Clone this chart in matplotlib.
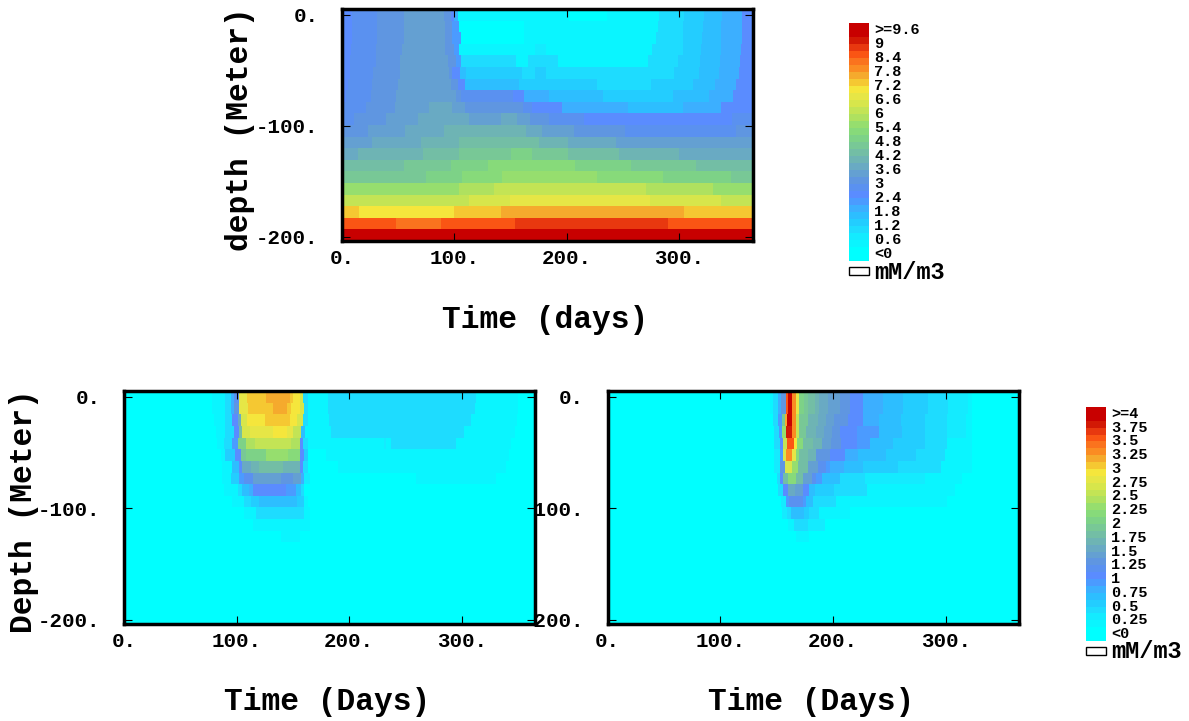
import numpy as np
import matplotlib
matplotlib.use("Agg")
import matplotlib.pyplot as plt
from matplotlib.colors import ListedColormap, BoundaryNorm
from matplotlib.patches import Rectangle

W, H = 1189, 721
plt.rcParams["font.family"] = ["Liberation Mono", "DejaVu Sans Mono"]
plt.rcParams["font.weight"] = "bold"

x_ticks = [0, 100, 200, 300]
x_tick_labels = ["0.", "100.", "200.", "300."]
y_ticks = [0, -100, -200]
y_tick_labels = ["0.", "-100.", "-200."]

top_key_labels = ["<0", "0.6", "1.2", "1.8", "2.4", "3", "3.6", "4.2", "4.8", "5.4",
                  "6", "6.6", "7.2", "7.8", "8.4", "9", ">=9.6"]
low_key_labels = ["<0", "0.25", "0.5", "0.75", "1", "1.25", "1.5", "1.75", "2", "2.25",
                  "2.5", "2.75", "3", "3.25", "3.5", "3.75", ">=4"]

band_colors = ["#00ffff", "#0af5ff", "#14ebff", "#1edcff", "#23cdff", "#2dbeff", "#3cafff", "#4b9bff",
               "#5a8cff", "#5a91f0", "#5f96e1", "#64a0d2", "#69aac3", "#6eb4b4", "#73bea5", "#78c896",
               "#7dd287", "#87da7a", "#96de6e", "#afe15f", "#c3e455", "#d7e64b", "#e6e646", "#f5e63c",
               "#f5c832", "#f5aa2d", "#fa8c23", "#fa731e", "#fa5514", "#e8380f", "#d21905", "#c80000"]

# each depth row: (start day, value), value holds until the next start day
top_rows = [
    [(0,2.5),(9,2.8),(31,3.1),(55,3.4),(91,3.1),(97,2.5),(100,1.9),(103,.4),(202,.1),(236,.4),(282,1.0),(304,1.3),(322,1.6),(338,1.9),(356,2.5)],
    [(0,2.5),(9,2.8),(31,3.1),(55,3.4),(92,3.1),(98,2.2),(104,.1),(162,.4),(281,1.0),(303,1.3),(321,1.6),(337,1.9),(356,2.5)],
    [(0,2.5),(9,2.8),(31,3.1),(55,3.4),(92,3.1),(98,2.2),(106,.1),(162,.4),(279,1.0),(303,1.3),(320,1.6),(337,1.9),(356,2.5)],
    [(0,2.5),(8,2.8),(30,3.1),(53,3.4),(92,3.1),(100,2.2),(104,.4),(172,.7),(181,.4),(276,1.0),(303,1.3),(319,1.6),(337,1.9),(355,2.5)],
    [(0,2.5),(7,2.8),(30,3.1),(52,3.4),(94,3.1),(101,2.2),(106,1.0),(155,.4),(165,1.0),(192,.4),(272,1.0),(299,1.3),(318,1.6),(336,1.9),(354,2.5)],
    [(0,2.5),(7,2.8),(28,3.1),(52,3.4),(95,3.1),(98,2.5),(105,1.6),(110,1.3),(160,1.0),(172,1.3),(181,1.0),(295,1.3),(317,1.6),(335,1.9),(353,2.5)],
    [(0,2.5),(5,2.8),(27,3.1),(50,3.4),(97,3.1),(103,2.5),(109,1.6),(157,1.3),(227,1.0),(275,1.3),(312,1.6),(332,1.9),(350,2.5)],
    [(0,2.5),(4,2.8),(26,3.1),(48,3.4),(101,3.1),(106,2.8),(152,2.5),(162,1.9),(184,1.6),(232,1.3),(294,1.6),(326,1.9),(348,2.5)],
    [(0,2.8),(21,3.1),(47,3.4),(77,3.7),(98,3.4),(109,3.1),(161,2.8),(169,2.5),(196,1.9),(254,1.6),(303,1.9),(337,2.5)],
    [(0,2.8),(11,3.1),(39,3.4),(68,3.7),(113,3.4),(141,3.7),(156,3.4),(167,3.1),(184,2.8),(215,2.5),(347,2.8)],
    [(0,3.1),(23,3.4),(56,3.7),(91,4.0),(164,3.7),(178,3.4),(206,3.1),(252,2.8),(350,3.1)],
    [(0,3.4),(27,3.7),(70,4.0),(104,4.3),(175,4.0),(201,3.7),(244,3.4)],
    [(0,3.7),(14,4.0),(72,4.3),(104,4.6),(150,4.9),(169,4.6),(201,4.3),(246,4.0),(300,3.7)],
    [(0,4.3),(55,4.6),(97,4.9),(130,5.2),(207,4.9),(257,4.6),(315,4.3)],
    [(0,4.6),(75,4.9),(107,5.2),(142,5.5),(227,5.2),(285,4.9),(346,4.6)],
    [(0,5.5),(104,5.8),(135,6.1),(270,5.8),(330,5.5)],
    [(0,6.1),(113,6.4),(149,6.7),(274,6.4),(337,6.1)],
    [(0,7.3),(15,7.0),(100,7.3),(141,7.6),(304,7.3)],
    [(0,8.5),(48,8.2),(88,8.5),(154,8.8),(290,8.5)],
    [(0,9.4)],
]

left_rows = [
    [(0,.05),(78,.18),(90,.43),(95,.8),(98,1.18),(102,2.8),(109,3.05),(126,3.18),(147,3.05),(150,2.93),(156,2.68),(159,.43),(163,.18),(181,.43),(313,.18),(350,.05)],
    [(0,.05),(78,.18),(90,.43),(95,.8),(98,1.3),(102,2.8),(110,3.05),(132,3.18),(145,3.05),(148,2.93),(156,2.68),(160,.43),(163,.18),(181,.43),(312,.18),(350,.05)],
    [(0,.05),(80,.18),(90,.43),(96,1.05),(101,1.55),(104,2.68),(109,2.93),(125,3.05),(147,2.93),(154,2.68),(159,.43),(163,.18),(182,.43),(308,.18),(349,.05)],
    [(0,.05),(82,.18),(90,.43),(98,1.05),(102,1.8),(105,2.68),(112,2.8),(132,2.93),(145,2.8),(150,2.55),(157,.68),(161,.18),(184,.43),(302,.18),(347,.05)],
    [(0,.05),(83,.18),(89,.43),(96,.93),(101,2.05),(108,2.43),(116,2.55),(148,2.43),(156,1.05),(159,.43),(163,.18),(231,.3),(233,.18),(237,.43),(295,.18),(344,.05)],
    [(0,.05),(86,.18),(90,.55),(99,1.05),(104,1.93),(108,2.05),(126,2.3),(146,2.18),(156,1.05),(160,.55),(163,.05),(179,.18),(342,.05)],
    [(0,.05),(87,.18),(96,.68),(102,1.05),(105,1.55),(113,1.68),(120,1.8),(141,1.68),(156,1.05),(159,.43),(163,.05),(190,.18),(339,.05)],
    [(0,.05),(87,.18),(95,.55),(102,.93),(107,1.18),(115,1.43),(139,1.3),(150,1.43),(157,.8),(160,.3),(165,.05),(259,.18),(330,.05)],
    [(0,.05),(89,.18),(101,.43),(105,.68),(111,.8),(115,1.05),(144,.93),(153,.68),(157,.43),(160,.05)],
    [(0,.05),(96,.18),(107,.43),(113,.55),(120,.68),(154,.55),(160,.18),(163,.05)],
    [(0,.05),(107,.18),(117,.43),(160,.18),(165,.05)],
    [(0,.05),(115,.18),(165,.05)],
    [(0,.05),(139,.18),(156,.05)],
    [(0,.05)], [(0,.05)], [(0,.05)], [(0,.05)], [(0,.05)], [(0,.05)], [(0,.05)],
]

right_rows = [
    [(0,.05),(144,.18),(147,.43),(151,.8),(154,1.3),(158,3.55),(160,3.93),(164,3.3),(167,2.8),(170,2.05),(174,1.93),(178,1.8),(184,1.68),(188,1.55),(196,1.43),(206,1.3),(215,1.05),(227,.8),(244,.68),(262,.55),(284,.43),(302,.3),(320,.18),(323,.05)],
    [(0,.05),(144,.18),(147,.43),(151,.8),(154,1.3),(158,3.55),(160,3.93),(164,3.3),(167,2.8),(170,2.05),(174,1.93),(178,1.8),(184,1.68),(188,1.55),(196,1.43),(206,1.3),(215,1.05),(227,.8),(244,.68),(262,.55),(284,.43),(302,.3),(320,.18),(323,.05)],
    [(0,.05),(147,.43),(151,.93),(155,1.93),(157,3.18),(159,3.93),(164,3.3),(167,2.55),(170,1.93),(178,1.68),(187,1.55),(194,1.43),(201,1.3),(213,1.05),(227,.8),(241,.68),(260,.55),(282,.43),(301,.3),(318,.18),(323,.05)],
    [(0,.05),(148,.43),(152,.93),(155,2.3),(158,3.8),(164,3.3),(167,2.55),(170,1.93),(176,1.68),(185,1.55),(192,1.43),(199,1.3),(206,1.05),(221,.93),(241,.68),(261,.55),(282,.43),(301,.3),(318,.18),(323,.05)],
    [(0,.05),(148,.43),(153,1.05),(156,2.55),(159,3.55),(165,2.93),(168,2.18),(173,1.8),(182,1.68),(190,1.43),(198,1.3),(207,1.05),(221,.93),(233,.68),(253,.55),(282,.43),(301,.18),(323,.05)],
    [(0,.05),(148,.3),(153,.93),(156,2.68),(158,3.3),(164,2.8),(167,2.18),(170,1.8),(178,1.68),(185,1.3),(197,1.05),(211,.8),(222,.68),(247,.55),(274,.43),(299,.18),(323,.05)],
    [(0,.05),(148,.3),(153,1.3),(157,2.68),(164,2.3),(169,1.8),(178,1.43),(187,1.18),(194,.93),(197,.8),(210,.68),(227,.55),(258,.43),(296,.18),(323,.05)],
    [(0,.05),(150,.43),(153,1.05),(156,1.8),(160,2.18),(167,1.8),(173,1.43),(181,1.18),(185,.93),(190,.68),(206,.43),(228,.3),(282,.18),(314,.05)],
    [(0,.05),(151,.43),(156,1.05),(160,1.55),(166,1.43),(173,1.05),(179,.68),(184,.55),(201,.43),(230,.18),(308,.05)],
    [(0,.05),(154,.3),(158,.93),(161,1.18),(173,.93),(176,.68),(182,.43),(203,.18),(301,.05)],
    [(0,.05),(155,.3),(159,.43),(163,.68),(174,.55),(179,.43),(188,.18),(215,.05)],
    [(0,.05),(160,.18),(165,.43),(178,.3),(193,.05)],
    [(0,.05),(167,.18),(179,.05)],
    [(0,.05)], [(0,.05)], [(0,.05)], [(0,.05)], [(0,.05)], [(0,.05)], [(0,.05)],
]


def px_axes(fig, left, top, right, bottom):
    return fig.add_axes([left / W, 1 - bottom / H, (right - left) / W, (bottom - top) / H])


def expand(rows):
    field = np.zeros((len(rows), 365))
    for i, row in enumerate(rows):
        for j, (start, value) in enumerate(row):
            stop = row[j + 1][0] if j + 1 < len(row) else 365
            field[i, start:stop] = value
    return field


def panel(fig, box, rows, norm, cmap):
    ax = px_axes(fig, *box)
    days = np.arange(366)
    depth = np.linspace(5, -204, 21)
    ax.pcolormesh(days, depth, expand(rows), cmap=cmap, norm=norm, shading="flat", antialiased=False)
    ax.set_xlim(0, 365)
    ax.set_ylim(-204, 5)
    ax.set_xticks(x_ticks, x_tick_labels, fontsize=15)
    ax.set_yticks(y_ticks, y_tick_labels, fontsize=15)
    ax.tick_params(axis="x", which="both", direction="in", top=True, length=6, width=0.8, pad=6)
    ax.tick_params(axis="y", which="both", direction="in", right=True, length=6, width=0.8, pad=17)
    for spine in ax.spines.values():
        spine.set_linewidth(2.5)
    return ax


def key(fig, box, levels, labels, cmap, norm, swatch_top):
    left, top, right, bottom = box
    ax = px_axes(fig, *box)
    edges = np.r_[0, np.arange(2, 33), 34]
    values = (levels[:-1] + levels[1:]) / 2
    ax.pcolormesh([0, 1], edges, values[:, None], cmap=cmap, norm=norm, shading="flat", antialiased=False)
    ax.set_xlim(0, 1)
    ax.set_ylim(0, 34)
    ax.axis("off")
    for i, label in enumerate(labels):
        ax.text(1.27, 1 + 2 * i, label, fontsize=11, va="center", ha="left", clip_on=False)
    fig.add_artist(Rectangle((left / W, 1 - (swatch_top + 8) / H), (right - left) / W, 8 / H,
                             transform=fig.transFigure, facecolor="white", edgecolor="black", linewidth=1))
    fig.text((right + 5) / W, 1 - (swatch_top + 5) / H, "mM/m3", fontsize=17, va="center", ha="left")


fig = plt.figure(figsize=(W / 100, H / 100), dpi=100)
cmap = ListedColormap(band_colors)
top_levels = np.arange(33) * 0.3
low_levels = np.arange(33) * 0.125
top_norm = BoundaryNorm(top_levels, 32)
low_norm = BoundaryNorm(low_levels, 32)

ax_top = panel(fig, (342, 9, 752.5, 241), top_rows, top_norm, cmap)
ax_right = panel(fig, (607.5, 391, 1019, 624), right_rows, low_norm, cmap)
ax_left = panel(fig, (124, 391, 535, 624), left_rows, low_norm, cmap)
ax_left.set_zorder(2)

key(fig, (849, 23, 869, 261), top_levels, top_key_labels, cmap, top_norm, 267)
key(fig, (1086, 407, 1106, 641), low_levels, low_key_labels, cmap, low_norm, 647)

label_size = 22.5
fig.text(545 / W, 1 - 320 / H, "Time (days)", fontsize=label_size, ha="center", va="center")
fig.text(327 / W, 1 - 702 / H, "Time (Days)", fontsize=label_size, ha="center", va="center")
fig.text(811 / W, 1 - 702 / H, "Time (Days)", fontsize=label_size, ha="center", va="center")
fig.text(240 / W, 1 - 129 / H, "depth (Meter)", fontsize=label_size, rotation=90, ha="center", va="center")
fig.text(24 / W, 1 - 511 / H, "Depth (Meter)", fontsize=label_size, rotation=90, ha="center", va="center")

fig.savefig("out.png", dpi=100)
